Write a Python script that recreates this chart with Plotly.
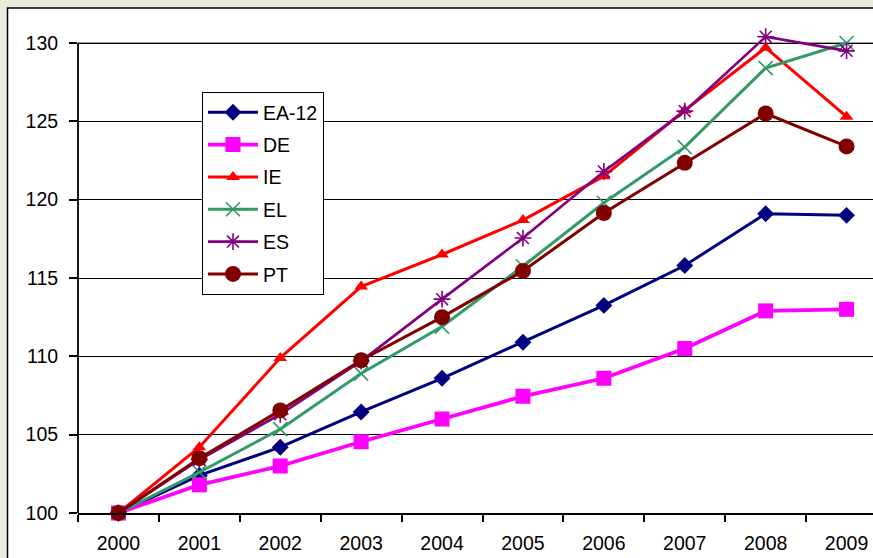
import plotly.graph_objects as go

# Index series, 2000 = 100
years = ["2000", "2001", "2002", "2003", "2004", "2005", "2006", "2007", "2008", "2009"]
ea12 = [100, 102.4, 104.2, 106.45, 108.6, 110.9, 113.25, 115.8, 119.1, 119.0]
de = [100, 101.8, 103.0, 104.55, 106.0, 107.45, 108.6, 110.5, 112.9, 113.0]
ie = [100, 104.2, 109.9, 114.45, 116.5, 118.7, 121.5, 125.7, 129.7, 125.3]
el = [100, 102.6, 105.35, 108.9, 111.9, 115.75, 119.8, 123.35, 128.4, 130.0]
es = [100, 103.4, 106.3, 109.7, 113.65, 117.55, 121.8, 125.65, 130.4, 129.5]
pt = [100, 103.5, 106.55, 109.75, 112.5, 115.45, 119.15, 122.35, 125.5, 123.4]
y_ticks = [100, 105, 110, 115, 120, 125, 130]

FONT = "Liberation Sans, Arial, sans-serif"
FS = 19.5
W, H = 873, 558
ML, MT, MB = 78, 33, 45
PW, PH = W - ML, H - MT - MB

series = [
    ("EA-12", ea12, "#000080", dict(symbol="diamond", size=13), 3),
    ("DE", de, "#FF00FF", dict(symbol="square", size=15), 3.8),
    ("IE", ie, "#FF0000", dict(symbol="triangle-up", size=12), 3),
    ("EL", el, "#339966", dict(symbol="x-thin-open", size=14, line=dict(width=1.6)), 3),
    ("ES", es, "#800080", dict(symbol="asterisk-open", size=14, line=dict(width=1.6)), 2.7),
    ("PT", pt, "#800000", dict(symbol="circle", size=16), 3),
]

fig = go.Figure()
for name, vals, color, marker, lw in series:
    m = dict(marker)
    m["color"] = color
    if "line" in m:
        m["line"] = dict(m["line"], color=color)
    fig.add_trace(go.Scatter(
        x=years, y=vals, name=name, mode="lines+markers",
        line=dict(color=color, width=lw), marker=m,
        cliponaxis=False, legendgroup=name,
    ))


def px_x(p):
    return (p - ML) / PW


def px_y(p):
    return (H - MB - p) / PH


shapes = [
    # chart area: white panel with black frame on beige page
    dict(type="rect", xref="paper", yref="paper",
         x0=px_x(7.5), x1=px_x(W + 20), y0=px_y(H + 20), y1=px_y(8),
         fillcolor="white", line=dict(color="black", width=1.5), layer="below"),
    # plot-area top border
    dict(type="line", xref="paper", yref="y", x0=0, x1=1, y0=130, y1=130,
         line=dict(color="#808080", width=1.5), layer="between"),
    # value axis line
    dict(type="line", xref="paper", yref="y", x0=0, x1=0, y0=100, y1=130,
         line=dict(color="black", width=1.8), layer="between"),
]

fig.update_layout(
    width=W, height=H,
    margin=dict(l=ML, r=0, t=MT, b=MB, pad=0),
    paper_bgcolor="#EBEBDF",
    plot_bgcolor="white",
    font=dict(family=FONT, size=FS, color="black"),
    shapes=shapes,
    showlegend=True,
    legend=dict(
        x=px_x(202), y=px_y(92), xanchor="left", yanchor="top",
        bgcolor="white", bordercolor="black", borderwidth=1,
        font=dict(family=FONT, size=FS, color="black"),
        tracegroupgap=4, itemwidth=50,
    ),
    xaxis=dict(
        type="category", range=[-0.5, -0.5 + PW / 80.9],
        showgrid=False, showline=True, linecolor="black", linewidth=2,
        ticks="outside", tickson="boundaries", ticklen=7, tickwidth=1.5,
        tickcolor="black", tickfont=dict(family=FONT, size=FS),
        ticklabelstandoff=12, zeroline=False, fixedrange=True,
    ),
    yaxis=dict(
        range=[100, 100 + 30 * PH / 470], tickvals=y_ticks,
        showgrid=True, gridcolor="black", gridwidth=1,
        showline=False, ticks="outside", ticklen=8, tickwidth=1.5,
        tickcolor="black", tickfont=dict(family=FONT, size=FS),
        ticklabelstandoff=7, zeroline=False, fixedrange=True,
    ),
)

fig.write_html("out.html")
